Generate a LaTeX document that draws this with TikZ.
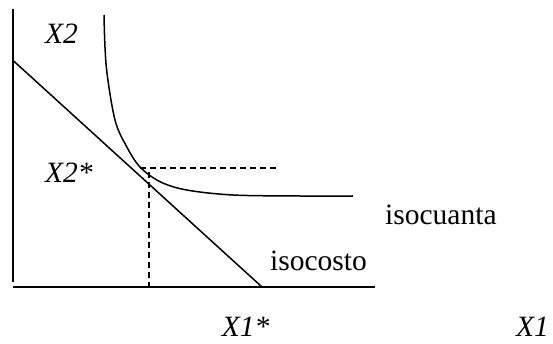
\documentclass[tikz,border=0pt]{standalone}
\usepackage{fontspec}
\setmainfont{Liberation Serif}
\begin{document}
\begin{tikzpicture}[x=1pt,y=-1pt,
  axis/.style={line width=1.8pt},
  curve/.style={line width=1.5pt},
  guide/.style={line width=1.5pt, dash pattern=on 6pt off 4pt},
  lbl/.style={anchor=base west, inner sep=0pt, font=\fontsize{29.5}{32}\selectfont},
  ilbl/.style={lbl, font=\fontsize{29.5}{32}\selectfont\itshape}]
\useasboundingbox (0,0) rectangle (553,344);
% axes
\coordinate (ytop) at (13.3,9);
\coordinate (ybot) at (13.3,281.7);
\coordinate (xl) at (13,286.7);
\coordinate (xr) at (375,286.7);
\draw[axis] (ytop) -- (ybot);
\draw[axis] (xl) -- (xr);
% isocost
\coordinate (c1) at (13.3,60.7);
\coordinate (c2) at (261.7,286.7);
\draw[curve] (c1) -- (c2);
% isoquant
\draw[curve] plot[smooth, tension=0.55] coordinates {(104,15) (106.3,66.7) (115,120) (126.7,146.7) (140,167) (160,181.7) (186.7,190) (233,195) (300,196) (353,196)};
% dashed guides
\coordinate (h1) at (140,168);
\coordinate (h2) at (276,168);
\coordinate (v1) at (149,172);
\coordinate (v2) at (149,286.7);
\draw[guide] (h1) -- (h2);
\draw[guide] (v1) -- (v2);
% labels
\node[ilbl] (x2) at (45,43.3) {X2};
\node[ilbl] (x2s) at (45,183) {X2*};
\node[ilbl] (x1s) at (221.7,336) {X1*};
\node[ilbl] (x1) at (516,336) {X1};
\node[lbl] (iq) at (385,225) {isocuanta};
\node[lbl] (ic) at (270,270) {isocosto};
\end{tikzpicture}
\end{document}
